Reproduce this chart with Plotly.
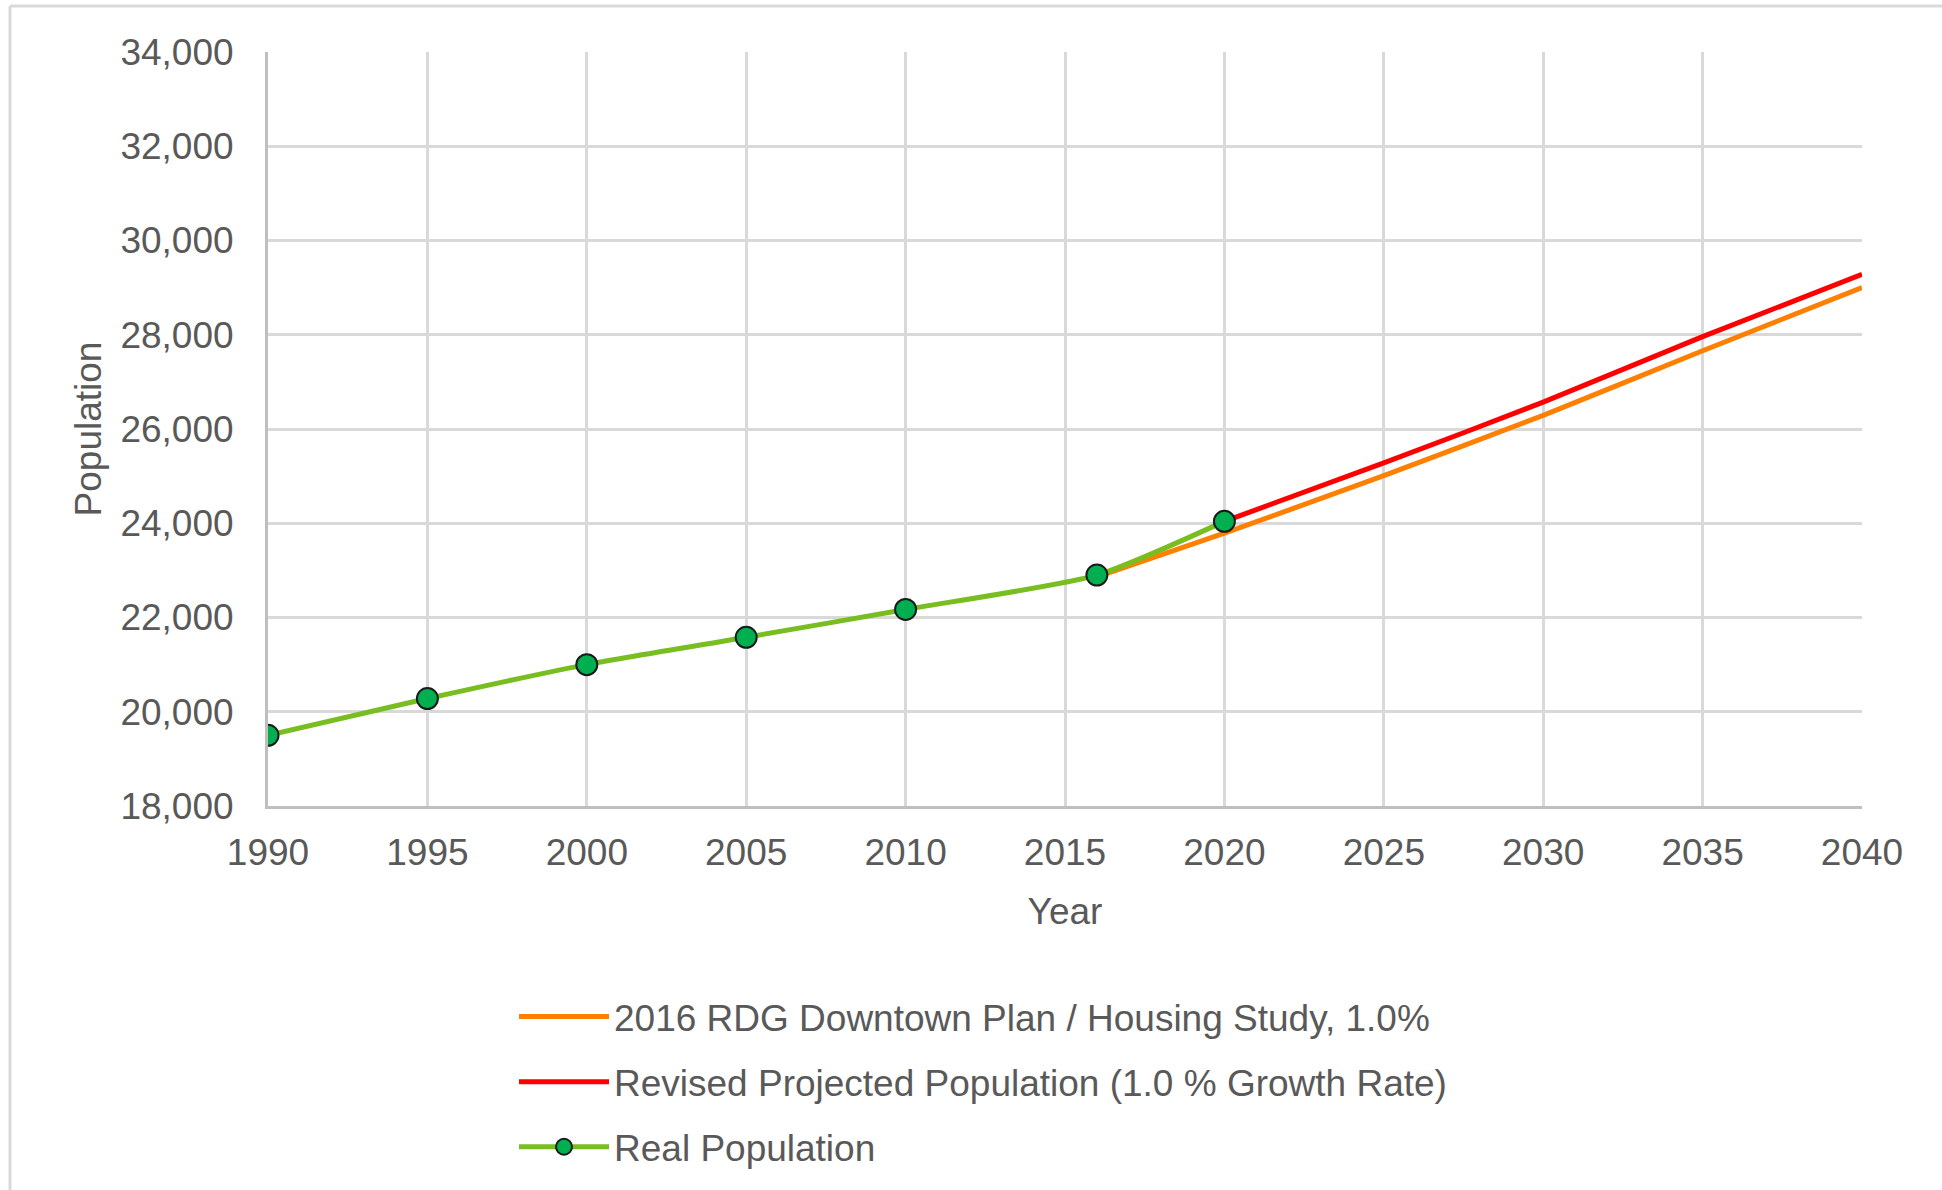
import plotly.graph_objects as go

# ---- data ----
real_years = [1990, 1995, 2000, 2005, 2010, 2016, 2020]
real_pop = [19500, 20280, 21000, 21580, 22170, 22900, 24040]

rdg_years = [2016, 2020, 2025, 2030, 2035, 2040]
rdg_pop = [22860, 23790, 25010, 26290, 27660, 29000]

revised_years = [2020, 2025, 2030, 2035, 2040]
revised_pop = [24040, 25280, 26570, 27960, 29280]

x_ticks = list(range(1990, 2041, 5))
y_ticks = list(range(18000, 34001, 2000))

names = [
    "2016 RDG Downtown Plan / Housing Study, 1.0%",
    "Revised Projected Population (1.0 % Growth Rate)",
    "Real Population",
]

FONT = "Liberation Sans, Arial, sans-serif"
TXT = "#595959"

W, H = 1942, 1190
L, R, T, B = 268, W - 1862, 52, H - 806
pw, ph = W - L - R, H - T - B

fig = go.Figure()
fig.add_trace(go.Scatter(
    x=rdg_years, y=rdg_pop, mode="lines", name=names[0],
    line=dict(color="#FF8000", width=5, shape="spline", smoothing=0.5),
    legendgroup="a",
))
fig.add_trace(go.Scatter(
    x=revised_years, y=revised_pop, mode="lines", name=names[1],
    line=dict(color="#FF0000", width=5, shape="spline", smoothing=0.5),
    legendgroup="b",
))
fig.add_trace(go.Scatter(
    x=real_years, y=real_pop, mode="lines+markers", name=names[2],
    line=dict(color="#78BE20", width=5, shape="spline", smoothing=0.6),
    marker=dict(color="#00B050", size=21, line=dict(color="#1A1A1A", width=2)),
    legendgroup="c",
))

# outer chart border (top and left)
fig.add_shape(type="line", xref="paper", yref="paper",
              x0=(10 - L) / pw, x1=(W + 5 - L) / pw,
              y0=1 + (T - 6) / ph, y1=1 + (T - 6) / ph,
              line=dict(color="#D9D9D9", width=3))
fig.add_shape(type="line", xref="paper", yref="paper",
              x0=(10 - L) / pw, x1=(10 - L) / pw,
              y0=1 + (T - 6) / ph, y1=-(B + 10) / ph,
              line=dict(color="#D9D9D9", width=3))

fig.update_layout(
    width=W, height=H,
    margin=dict(l=L, r=R, t=T, b=B, autoexpand=False),
    paper_bgcolor="white", plot_bgcolor="white",
    font=dict(family=FONT, size=37, color=TXT),
    showlegend=True,
    legend=dict(
        x=(514 - L) / pw, xanchor="left",
        y=-(986 - 806) / ph, yanchor="top",
        orientation="v", traceorder="grouped",
        tracegroupgap=14,
        font=dict(family=FONT, size=37, color=TXT),
        itemwidth=90,
        bgcolor="rgba(0,0,0,0)",
    ),
)

fig.update_xaxes(
    range=[1990, 2040], tickvals=x_ticks, ticktext=[str(v) for v in x_ticks],
    showgrid=True, gridcolor="#D9D9D9", gridwidth=3,
    showline=True, linecolor="#BFBFBF", linewidth=3,
    ticks="", ticklabelstandoff=12,
    tickfont=dict(family=FONT, size=37, color=TXT),
    title=dict(text="Year", font=dict(family=FONT, size=37, color=TXT), standoff=26),
    zeroline=False,
)
fig.update_yaxes(
    range=[18000, 34000], tickvals=y_ticks, ticktext=[f"{v:,}" for v in y_ticks],
    showgrid=True, gridcolor="#D9D9D9", gridwidth=3,
    showline=True, linecolor="#BFBFBF", linewidth=3,
    ticks="", ticklabelstandoff=24,
    tickfont=dict(family=FONT, size=37, color=TXT),
    title=dict(text="Population", font=dict(family=FONT, size=37, color=TXT), standoff=8),
    zeroline=False,
)

fig.write_html("out.html", config={"displayModeBar": False},
               post_script="document.body.style.margin='0';")
